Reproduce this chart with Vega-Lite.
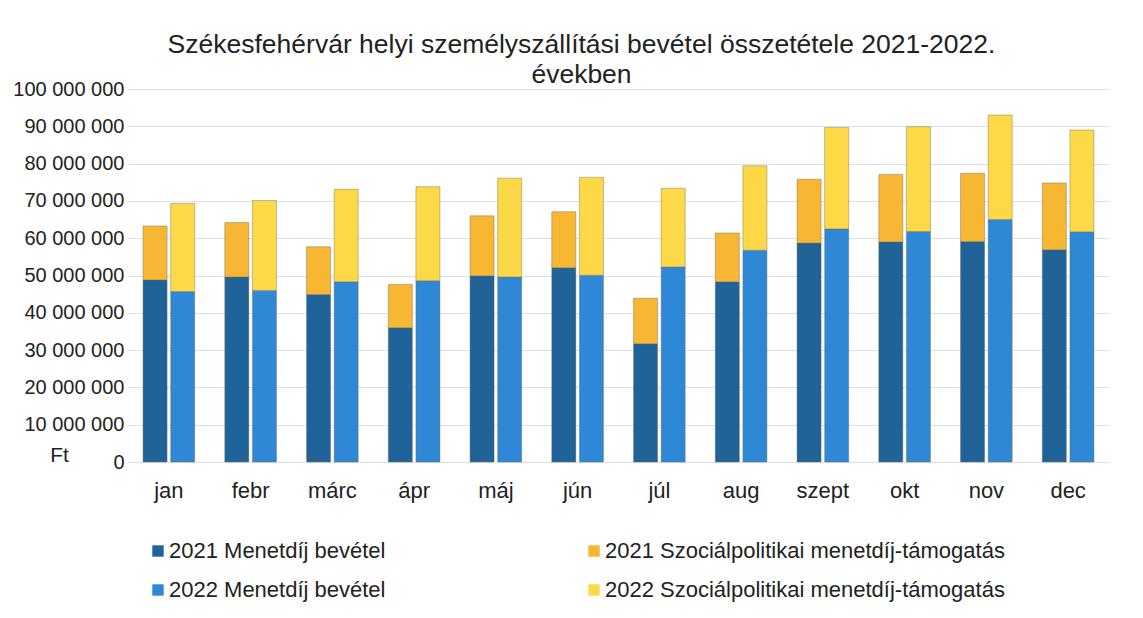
{
  "$schema": "https://vega.github.io/schema/vega-lite/v6.json",
  "autosize": {"type": "none"},
  "padding": {"left": 128, "top": 89, "right": 34, "bottom": 156},
  "width": 981,
  "height": 373,
  "background": "white",
  "title": {
    "text": ["Székesfehérvár helyi személyszállítási bevétel összetétele 2021-2022.", "években"],
    "font": "Liberation Sans",
    "fontSize": 26.5,
    "fontWeight": "normal",
    "color": "#222222",
    "anchor": "middle",
    "frame": "group",
    "baseline": "bottom",
    "lineHeight": 30,
    "offset": -36,
    "dx": -37
  },
  "config": {
    "view": {"stroke": null},
    "locale": {"number": {"decimal": ",", "thousands": " ", "grouping": [3], "currency": ["", " Ft"]}},
    "font": "Liberation Sans"
  },
  "data": {
    "values": [
      {"month": "jan", "year": "2021", "series": "2021 Menetdíj bevétel", "value": 48800000},
      {"month": "jan", "year": "2021", "series": "2021 Szociálpolitikai menetdíj-támogatás", "value": 14500000},
      {"month": "jan", "year": "2022", "series": "2022 Menetdíj bevétel", "value": 45700000},
      {"month": "jan", "year": "2022", "series": "2022 Szociálpolitikai menetdíj-támogatás", "value": 23600000},
      {"month": "febr", "year": "2021", "series": "2021 Menetdíj bevétel", "value": 49600000},
      {"month": "febr", "year": "2021", "series": "2021 Szociálpolitikai menetdíj-támogatás", "value": 14600000},
      {"month": "febr", "year": "2022", "series": "2022 Menetdíj bevétel", "value": 46000000},
      {"month": "febr", "year": "2022", "series": "2022 Szociálpolitikai menetdíj-támogatás", "value": 24100000},
      {"month": "márc", "year": "2021", "series": "2021 Menetdíj bevétel", "value": 44900000},
      {"month": "márc", "year": "2021", "series": "2021 Szociálpolitikai menetdíj-támogatás", "value": 12800000},
      {"month": "márc", "year": "2022", "series": "2022 Menetdíj bevétel", "value": 48300000},
      {"month": "márc", "year": "2022", "series": "2022 Szociálpolitikai menetdíj-támogatás", "value": 24800000},
      {"month": "ápr", "year": "2021", "series": "2021 Menetdíj bevétel", "value": 36000000},
      {"month": "ápr", "year": "2021", "series": "2021 Szociálpolitikai menetdíj-támogatás", "value": 11600000},
      {"month": "ápr", "year": "2022", "series": "2022 Menetdíj bevétel", "value": 48600000},
      {"month": "ápr", "year": "2022", "series": "2022 Szociálpolitikai menetdíj-támogatás", "value": 25200000},
      {"month": "máj", "year": "2021", "series": "2021 Menetdíj bevétel", "value": 49900000},
      {"month": "máj", "year": "2021", "series": "2021 Szociálpolitikai menetdíj-támogatás", "value": 16100000},
      {"month": "máj", "year": "2022", "series": "2022 Menetdíj bevétel", "value": 49600000},
      {"month": "máj", "year": "2022", "series": "2022 Szociálpolitikai menetdíj-támogatás", "value": 26500000},
      {"month": "jún", "year": "2021", "series": "2021 Menetdíj bevétel", "value": 52100000},
      {"month": "jún", "year": "2021", "series": "2021 Szociálpolitikai menetdíj-támogatás", "value": 15000000},
      {"month": "jún", "year": "2022", "series": "2022 Menetdíj bevétel", "value": 50100000},
      {"month": "jún", "year": "2022", "series": "2022 Szociálpolitikai menetdíj-támogatás", "value": 26200000},
      {"month": "júl", "year": "2021", "series": "2021 Menetdíj bevétel", "value": 31700000},
      {"month": "júl", "year": "2021", "series": "2021 Szociálpolitikai menetdíj-támogatás", "value": 12200000},
      {"month": "júl", "year": "2022", "series": "2022 Menetdíj bevétel", "value": 52300000},
      {"month": "júl", "year": "2022", "series": "2022 Szociálpolitikai menetdíj-támogatás", "value": 21100000},
      {"month": "aug", "year": "2021", "series": "2021 Menetdíj bevétel", "value": 48300000},
      {"month": "aug", "year": "2021", "series": "2021 Szociálpolitikai menetdíj-támogatás", "value": 13100000},
      {"month": "aug", "year": "2022", "series": "2022 Menetdíj bevétel", "value": 56800000},
      {"month": "aug", "year": "2022", "series": "2022 Szociálpolitikai menetdíj-támogatás", "value": 22600000},
      {"month": "szept", "year": "2021", "series": "2021 Menetdíj bevétel", "value": 58700000},
      {"month": "szept", "year": "2021", "series": "2021 Szociálpolitikai menetdíj-támogatás", "value": 17100000},
      {"month": "szept", "year": "2022", "series": "2022 Menetdíj bevétel", "value": 62500000},
      {"month": "szept", "year": "2022", "series": "2022 Szociálpolitikai menetdíj-támogatás", "value": 27200000},
      {"month": "okt", "year": "2021", "series": "2021 Menetdíj bevétel", "value": 59000000},
      {"month": "okt", "year": "2021", "series": "2021 Szociálpolitikai menetdíj-támogatás", "value": 18100000},
      {"month": "okt", "year": "2022", "series": "2022 Menetdíj bevétel", "value": 61800000},
      {"month": "okt", "year": "2022", "series": "2022 Szociálpolitikai menetdíj-támogatás", "value": 28100000},
      {"month": "nov", "year": "2021", "series": "2021 Menetdíj bevétel", "value": 59100000},
      {"month": "nov", "year": "2021", "series": "2021 Szociálpolitikai menetdíj-támogatás", "value": 18300000},
      {"month": "nov", "year": "2022", "series": "2022 Menetdíj bevétel", "value": 65000000},
      {"month": "nov", "year": "2022", "series": "2022 Szociálpolitikai menetdíj-támogatás", "value": 28000000},
      {"month": "dec", "year": "2021", "series": "2021 Menetdíj bevétel", "value": 56900000},
      {"month": "dec", "year": "2021", "series": "2021 Szociálpolitikai menetdíj-támogatás", "value": 17900000},
      {"month": "dec", "year": "2022", "series": "2022 Menetdíj bevétel", "value": 61700000},
      {"month": "dec", "year": "2022", "series": "2022 Szociálpolitikai menetdíj-támogatás", "value": 27300000}
    ]
  },
  "mark": {"type": "bar", "stroke": "#6b6b60", "strokeWidth": 0.6, "strokeOpacity": 0.7},
  "encoding": {
    "x": {
      "field": "month",
      "type": "nominal",
      "sort": ["jan", "febr", "márc", "ápr", "máj", "jún", "júl", "aug", "szept", "okt", "nov", "dec"],
      "scale": {"paddingInner": 0.368, "paddingOuter": 0.184},
      "axis": {
        "title": null,
        "labelAngle": 0,
        "labelFont": "Liberation Sans",
        "labelFontSize": 22,
        "labelColor": "#222222",
        "labelPadding": 18,
        "labelBaseline": "top",
        "ticks": false,
        "domain": false,
        "grid": false
      }
    },
    "xOffset": {
      "field": "year",
      "type": "nominal",
      "scale": {"paddingInner": 0.13, "paddingOuter": 0}
    },
    "y": {
      "field": "value",
      "type": "quantitative",
      "stack": "zero",
      "scale": {"domain": [0, 100000000], "nice": false},
      "axis": {
        "title": "Ft",
        "titleAngle": 0,
        "titleFont": "Liberation Sans",
        "titleFontSize": 21,
        "titleFontWeight": "normal",
        "titleColor": "#222222",
        "titleAlign": "center",
        "titleBaseline": "alphabetic",
        "titleX": -69,
        "titleY": 372,
        "values": [0, 10000000, 20000000, 30000000, 40000000, 50000000, 60000000, 70000000, 80000000, 90000000, 100000000],
        "format": ",d",
        "labelFont": "Liberation Sans",
        "labelFontSize": 20,
        "labelColor": "#222222",
        "labelPadding": 4,
        "ticks": false,
        "domain": false,
        "grid": true,
        "gridColor": "#dae0ea",
        "gridWidth": 1
      }
    },
    "color": {
      "field": "series",
      "type": "nominal",
      "scale": {
        "domain": ["2021 Menetdíj bevétel", "2021 Szociálpolitikai menetdíj-támogatás", "2022 Menetdíj bevétel", "2022 Szociálpolitikai menetdíj-támogatás"],
        "range": ["#1f6399", "#f7b733", "#2e88d6", "#fdd947"]
      },
      "legend": {
        "title": null,
        "orient": "none",
        "legendX": 19,
        "legendY": 451,
        "direction": "horizontal",
        "columns": 2,
        "columnPadding": 197,
        "rowPadding": 17,
        "padding": 0,
        "symbolType": "square",
        "symbolSize": 130,
        "symbolStrokeWidth": 0,
        "symbolOpacity": 1,
        "labelFont": "Liberation Sans",
        "labelFontSize": 22,
        "labelColor": "#222222",
        "labelOffset": 0,
        "labelLimit": 600
      }
    },
    "order": {"field": "series", "type": "nominal"}
  }
}
